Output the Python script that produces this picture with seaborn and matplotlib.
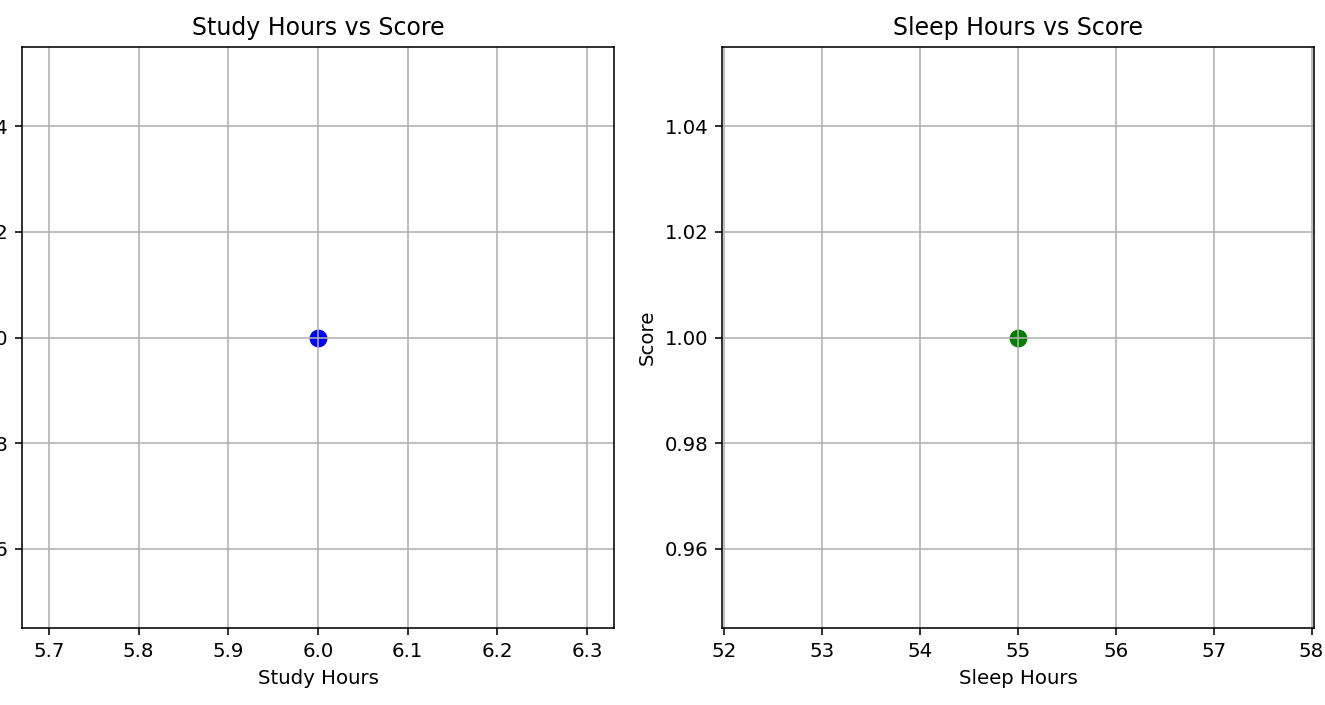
import matplotlib
matplotlib.use("Agg")
import matplotlib.pyplot as plt
import seaborn as sns
import pandas as pd

# Data
study_hours = [6.0]
sleep_hours = [55]
scores = [1.0]

df = pd.DataFrame({"Study Hours": study_hours, "Sleep Hours": sleep_hours, "Score": scores})

plt.rcParams['font.family'] = ['DejaVu Sans']

DPI = 142
W, H = 1325.0, 705.0
fig = plt.figure(figsize=(W / DPI, H / DPI), dpi=DPI)
ax1 = fig.add_axes([22 / W, (H - 628) / H, 592 / W, 581 / H])
ax2 = fig.add_axes([722 / W, (H - 628) / H, 592 / W, 581 / H])

sns.scatterplot(data=df, x="Study Hours", y="Score", ax=ax1, color="blue", s=82, linewidth=0)
ax1.set_title("Study Hours vs Score", fontsize=12)
ax1.set_xlabel("Study Hours")
ax1.set_ylabel("Score")
ax1.grid(True)

sns.scatterplot(data=df, x="Sleep Hours", y="Score", ax=ax2, color="green", s=82, linewidth=0)
ax2.set_title("Sleep Hours vs Score", fontsize=12)
ax2.set_xlabel("Sleep Hours")
ax2.set_ylabel("Score")
ax2.grid(True)

fig.savefig("out.png", dpi=DPI)
